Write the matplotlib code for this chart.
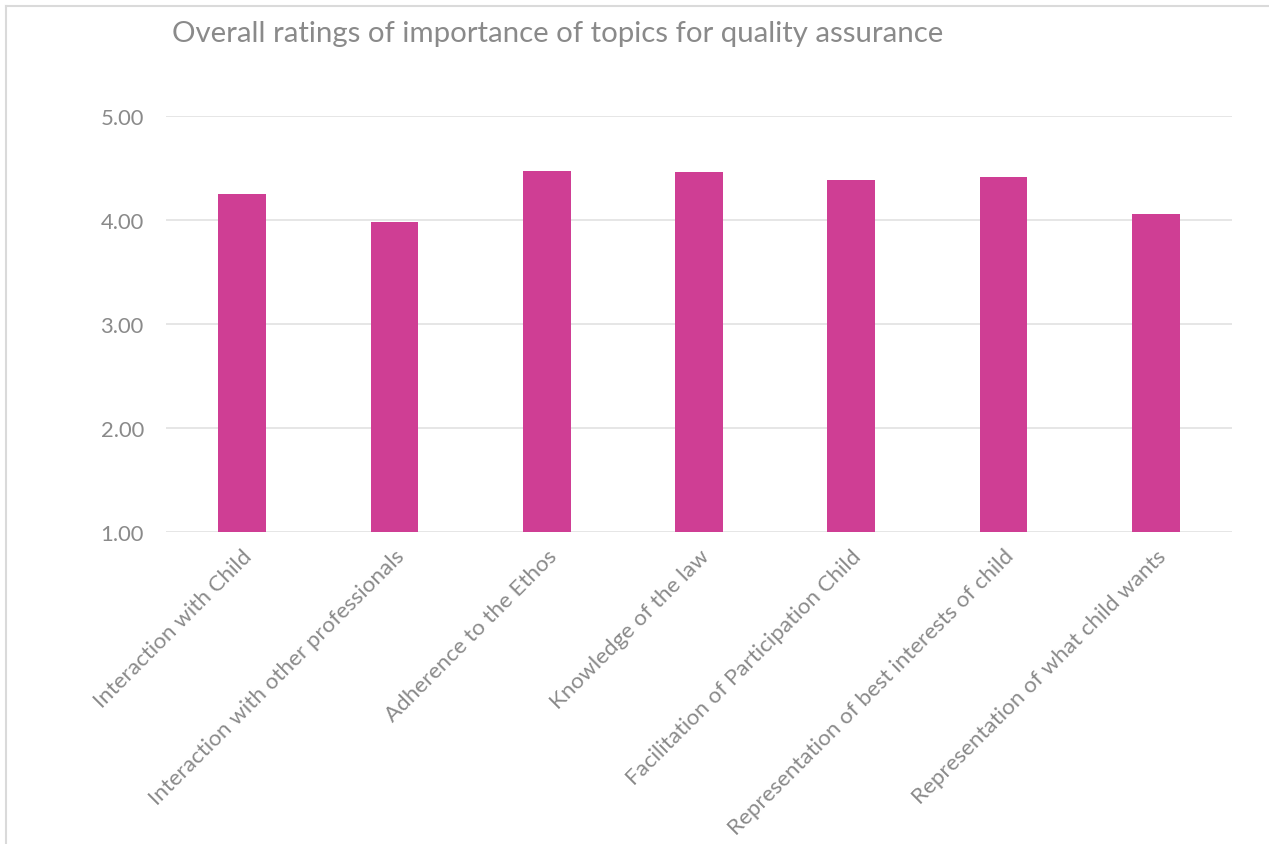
import matplotlib.pyplot as plt
from matplotlib.lines import Line2D
import numpy as np

topics = ['Interaction with Child', 'Interaction with other professionals',
          'Adherence to the Ethos', 'Knowledge of the law',
          'Facilitation of Participation Child',
          'Representation of best interests of child',
          'Representation of what child wants']
ratings = [4.25, 3.98, 4.47, 4.46, 4.39, 4.42, 4.06]
yticks = [1, 2, 3, 4, 5]

W, H = 1269, 845
fig = plt.figure(figsize=(W / 100, H / 100), dpi=100)
plt.rcParams['font.family'] = ['Lato', 'DejaVu Sans']

ax = fig.add_axes([166 / W, 1 - 532.7 / H, (1232 - 166) / W, (532.7 - 117.3) / H])
x = np.arange(len(topics))
ax.bar(x, [r - 1 for r in ratings], bottom=1, width=0.313, color='#CF3E94', zorder=3)

ax.set_xlim(-0.5, len(topics) - 0.5)
ax.set_ylim(1, 5)
ax.set_yticks(yticks)
ax.set_yticklabels([f'{v:.2f}' for v in yticks], fontsize=15.8, color='#8a8a8a')
ax.set_xticks(x)
ax.set_xticklabels(topics, rotation=45, ha='right', va='top', rotation_mode='anchor',
                   fontsize=16.1, color='#8a8a8a')
ax.tick_params(axis='both', length=0)
ax.tick_params(axis='y', pad=16)
ax.tick_params(axis='x', pad=10)
ax.grid(axis='y', color='#e2e2e2', lw=1.2, zorder=0)
for s in ax.spines.values():
    s.set_visible(False)

fig.text(172 / W, 1 - 34 / H, 'Overall ratings of importance of topics for quality assurance',
         fontsize=21.2, color='#8a8a8a', ha='left', va='center')

# chart area border (top and left edges visible)
fig.add_artist(Line2D([5.5 / W, 5.5 / W], [0, 1 - 7 / H], color='#dadada', lw=1.5))
fig.add_artist(Line2D([5.5 / W, 1], [1 - 7 / H, 1 - 7 / H], color='#dadada', lw=1.5))

fig.savefig('out.png', dpi=100)
